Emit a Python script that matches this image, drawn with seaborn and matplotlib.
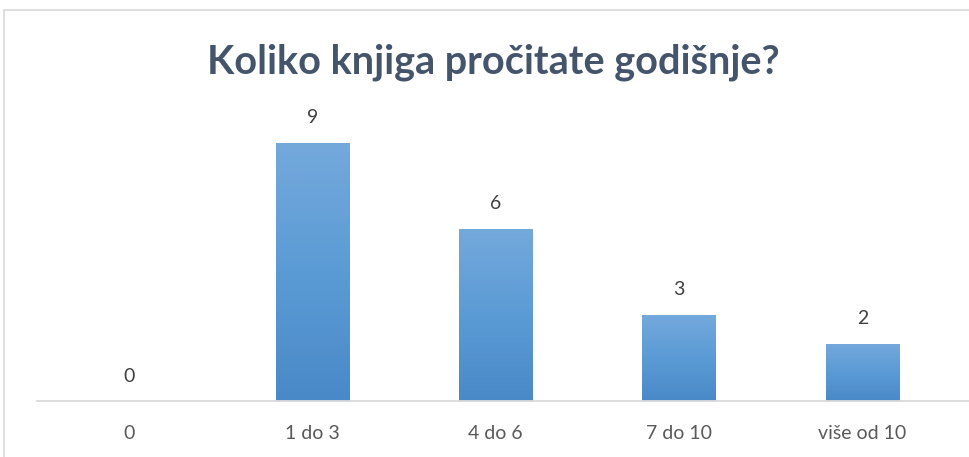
import numpy as np
import pandas as pd
import seaborn as sns
import matplotlib.pyplot as plt
from matplotlib.patches import Rectangle
from matplotlib.colors import LinearSegmentedColormap

categories = ["0", "1 do 3", "4 do 6", "7 do 10", "više od 10"]
counts = [0, 9, 6, 3, 2]
title = "Koliko knjiga pročitate godišnje?"

df = pd.DataFrame({"odgovor": categories, "broj": counts})

sns.set_theme(style="white")
plt.rcParams["font.family"] = ["Lato", "DejaVu Sans"]

fig = plt.figure(figsize=(9.69, 4.57), dpi=100)
ax = fig.add_axes([37 / 969, 1 - 401 / 457, (969 - 37) / 969, 287 / 457])

sns.barplot(data=df, x="odgovor", y="broj", ax=ax, width=0.4,
            color="#5B9BD5", saturation=1)

# vertical gradient on each bar
grad = LinearSegmentedColormap.from_list("g", ["#4A89C8", "#5B9BD5", "#74A9DC"])
for p in ax.patches:
    x0, y0 = p.get_x(), p.get_y()
    w, h = p.get_width(), p.get_height()
    if h <= 0:
        continue
    im = ax.imshow(np.linspace(0, 1, 256).reshape(-1, 1), cmap=grad,
                   origin="lower", aspect="auto",
                   extent=[x0, x0 + w, y0, y0 + h], zorder=p.get_zorder() + 0.1)
    im.set_clip_path(p)

ax.set_xlim(-0.5, 4.58)
ax.set_ylim(0, 10)

for i, v in enumerate(counts):
    ax.annotate(str(v), (i, v), xytext=(0, 18), textcoords="offset points",
                ha="center", va="center", fontsize=14, color="#404040")

for s in ["top", "right", "left"]:
    ax.spines[s].set_visible(False)
ax.spines["bottom"].set_color("#D9D9D9")
ax.spines["bottom"].set_linewidth(1.3)
ax.set_yticks([])
ax.set_xlabel("")
ax.set_ylabel("")
ax.tick_params(axis="x", length=0, pad=17, labelsize=14, labelcolor="#595959")

fig.text(493 / 969, 1 - 62 / 457, title, ha="center", va="center",
         fontsize=28.5, fontweight="bold", color="#44546A")

fig.patches.append(Rectangle((4 / 969, -0.1), 1.1, 1 - 10 / 457 + 0.1,
                             transform=fig.transFigure, fill=False,
                             edgecolor="#D9D9D9", linewidth=1.2))

fig.savefig("out.png", dpi=100)
